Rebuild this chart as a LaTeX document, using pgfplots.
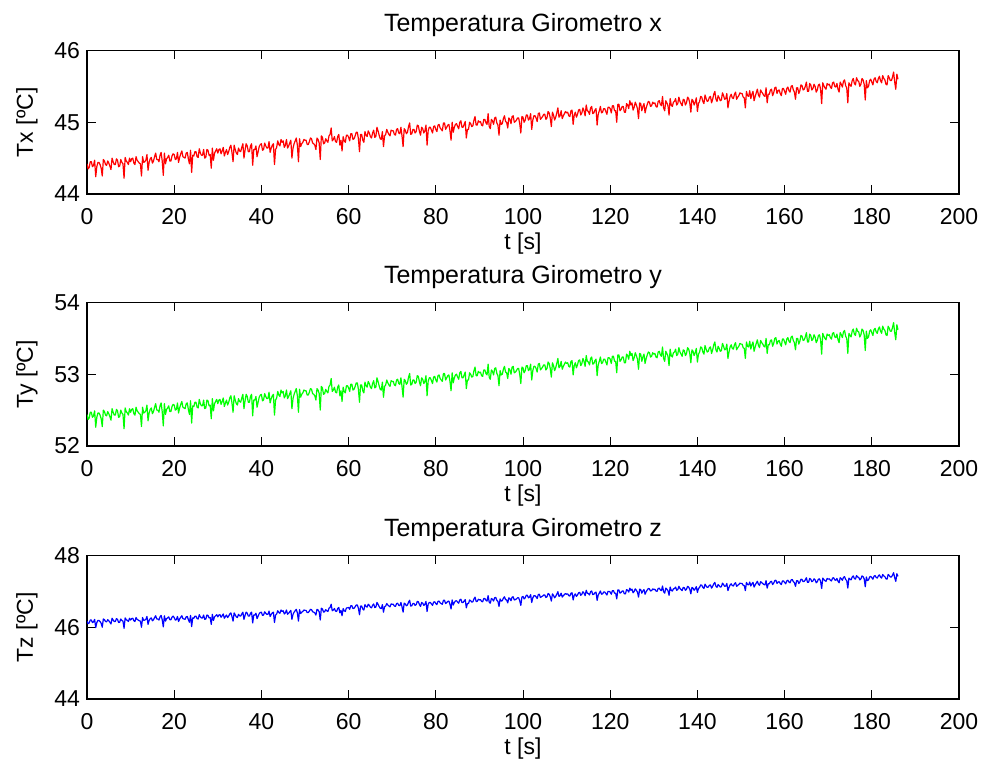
\documentclass[border=0pt]{standalone}
\usepackage{pgfplots}
\pgfplotsset{compat=1.18}
\usepackage{pgfplotstable}
\usepackage{fontspec}
\setmainfont{Liberation Sans}
\definecolor{mred}{rgb}{1,0,0}
\definecolor{mgreen}{rgb}{0,1,0}
\definecolor{mblue}{rgb}{0,0,1}
\pgfplotstableread{
t x y z
0 44.42 52.44 46.17
0.25 44.35 52.37 46.10
0.5 44.37 52.39 46.12
0.75 44.45 52.47 46.20
1 44.45 52.47 46.20
1.25 44.38 52.40 46.13
1.5 44.40 52.42 46.15
1.75 44.47 52.49 46.22
2 44.24 52.26 45.99
2.25 44.38 52.40 46.13
2.5 44.44 52.46 46.19
2.75 44.44 52.46 46.19
3 44.41 52.43 46.16
3.25 44.36 52.38 46.11
3.5 44.25 52.27 46.00
3.75 44.48 52.50 46.23
4 44.46 52.48 46.21
4.25 44.41 52.43 46.16
4.5 44.40 52.42 46.15
4.75 44.46 52.48 46.21
5 44.43 52.45 46.18
5.25 44.39 52.41 46.14
5.5 44.34 52.36 46.09
5.75 44.50 52.52 46.25
6 44.45 52.47 46.20
6.25 44.41 52.43 46.16
6.5 44.41 52.43 46.16
6.75 44.49 52.51 46.24
7 44.47 52.49 46.22
7.25 44.38 52.40 46.13
7.5 44.39 52.41 46.14
7.75 44.48 52.50 46.23
8 44.44 52.46 46.19
8.25 44.42 52.44 46.17
8.5 44.22 52.24 45.97
8.75 44.51 52.53 46.26
9 44.46 52.48 46.21
9.25 44.44 52.46 46.19
9.5 44.41 52.43 46.16
9.75 44.50 52.52 46.25
10 44.45 52.47 46.20
10.25 44.49 52.51 46.24
10.5 44.50 52.52 46.25
10.75 44.43 52.45 46.18
11 44.41 52.43 46.16
11.25 44.52 52.54 46.27
11.5 44.47 52.49 46.22
11.75 44.45 52.47 46.20
12 44.43 52.45 46.18
12.25 44.42 52.44 46.17
12.5 44.25 52.27 46.00
12.75 44.52 52.54 46.27
13 44.44 52.46 46.19
13.25 44.45 52.47 46.20
13.5 44.47 52.49 46.22
13.75 44.55 52.57 46.30
14 44.33 52.35 46.08
14.25 44.44 52.46 46.19
14.5 44.49 52.51 46.24
14.75 44.51 52.53 46.26
15 44.43 52.45 46.18
15.25 44.46 52.48 46.21
15.5 44.52 52.54 46.27
15.75 44.57 52.59 46.32
16 44.48 52.50 46.23
16.25 44.48 52.50 46.23
16.5 44.45 52.47 46.20
16.75 44.54 52.56 46.29
17 44.58 52.60 46.33
17.25 44.46 52.48 46.21
17.5 44.26 52.28 46.01
17.75 44.57 52.59 46.32
18 44.42 52.44 46.17
18.25 44.49 52.51 46.24
18.5 44.51 52.53 46.26
18.75 44.54 52.56 46.29
19 44.46 52.48 46.21
19.25 44.46 52.48 46.21
19.5 44.53 52.55 46.28
19.75 44.56 52.58 46.31
20 44.55 52.57 46.27
20.25 44.48 52.50 46.20
20.5 44.49 52.51 46.21
20.75 44.58 52.60 46.30
21 44.44 52.46 46.16
21.25 44.51 52.53 46.23
21.5 44.56 52.58 46.28
21.75 44.60 52.62 46.32
22 44.52 52.54 46.24
22.25 44.51 52.53 46.23
22.5 44.50 52.52 46.22
22.75 44.57 52.59 46.29
23 44.58 52.60 46.30
23.25 44.49 52.51 46.21
23.5 44.42 52.44 46.14
23.75 44.61 52.63 46.33
24 44.30 52.32 46.02
24.25 44.54 52.56 46.26
24.5 44.53 52.55 46.25
24.75 44.59 52.61 46.31
25 44.59 52.61 46.31
25.25 44.52 52.54 46.24
25.5 44.51 52.53 46.23
25.75 44.63 52.65 46.35
26 44.57 52.59 46.29
26.25 44.54 52.56 46.26
26.5 44.54 52.56 46.26
26.75 44.62 52.64 46.34
27 44.50 52.52 46.22
27.25 44.51 52.53 46.23
27.5 44.62 52.64 46.34
27.75 44.61 52.63 46.33
28 44.54 52.56 46.26
28.25 44.55 52.57 46.27
28.5 44.36 52.38 46.08
28.75 44.64 52.66 46.36
29 44.47 52.49 46.19
29.25 44.57 52.59 46.29
29.5 44.60 52.62 46.32
29.75 44.63 52.65 46.35
30 44.57 52.59 46.29
30.25 44.62 52.64 46.34
30.5 44.63 52.65 46.35
30.75 44.56 52.58 46.28
31 44.60 52.62 46.32
31.25 44.65 52.67 46.37
31.5 44.53 52.55 46.25
31.75 44.58 52.60 46.30
32 44.62 52.64 46.34
32.25 44.55 52.57 46.27
32.5 44.59 52.61 46.31
32.75 44.65 52.67 46.37
33 44.68 52.70 46.40
33.25 44.58 52.60 46.30
33.5 44.45 52.47 46.17
33.75 44.68 52.70 46.40
34 44.62 52.64 46.34
34.25 44.57 52.59 46.29
34.5 44.55 52.57 46.27
34.75 44.64 52.66 46.36
35 44.60 52.62 46.32
35.25 44.59 52.61 46.31
35.5 44.65 52.67 46.37
35.75 44.70 52.72 46.42
36 44.50 52.52 46.22
36.25 44.61 52.63 46.33
36.5 44.70 52.72 46.42
36.75 44.67 52.69 46.39
37 44.59 52.61 46.31
37.25 44.59 52.61 46.31
37.5 44.67 52.69 46.39
37.75 44.70 52.72 46.42
38 44.40 52.42 46.12
38.25 44.62 52.64 46.34
38.5 44.62 52.64 46.34
38.75 44.67 52.69 46.39
39 44.52 52.54 46.24
39.25 44.59 52.61 46.31
39.5 44.66 52.68 46.38
39.75 44.69 52.71 46.41
40 44.70 52.72 46.42
40.25 44.61 52.63 46.33
40.5 44.62 52.64 46.34
40.75 44.71 52.73 46.43
41 44.67 52.69 46.39
41.25 44.64 52.66 46.36
41.5 44.64 52.66 46.36
41.75 44.73 52.75 46.45
42 44.58 52.60 46.30
42.25 44.64 52.66 46.36
42.5 44.68 52.70 46.40
42.75 44.70 52.72 46.42
43 44.41 52.43 46.13
43.25 44.62 52.64 46.34
43.5 44.65 52.67 46.37
43.75 44.74 52.76 46.46
44 44.69 52.71 46.41
44.25 44.67 52.69 46.39
44.5 44.76 52.78 46.48
44.75 44.72 52.74 46.44
45 44.74 52.76 46.46
45.25 44.65 52.67 46.37
45.5 44.68 52.70 46.40
45.75 44.76 52.78 46.48
46 44.64 52.66 46.36
46.25 44.67 52.69 46.39
46.5 44.71 52.73 46.43
46.75 44.75 52.77 46.47
47 44.50 52.52 46.22
47.25 44.64 52.66 46.36
47.5 44.70 52.72 46.42
47.75 44.74 52.76 46.46
48 44.78 52.80 46.50
48.25 44.68 52.70 46.40
48.5 44.45 52.47 46.17
48.75 44.77 52.79 46.49
49 44.66 52.68 46.38
49.25 44.70 52.72 46.42
49.5 44.72 52.74 46.44
49.75 44.76 52.78 46.48
50 44.75 52.77 46.47
50.25 44.75 52.77 46.47
50.5 44.69 52.71 46.41
50.75 44.69 52.71 46.41
51 44.73 52.75 46.45
51.25 44.78 52.80 46.50
51.5 44.77 52.79 46.49
51.75 44.71 52.73 46.43
52 44.70 52.72 46.42
52.25 44.68 52.70 46.40
52.5 44.62 52.64 46.34
52.75 44.78 52.80 46.50
53 44.76 52.78 46.48
53.25 44.71 52.73 46.43
53.5 44.48 52.50 46.20
53.75 44.81 52.83 46.53
54 44.79 52.81 46.51
54.25 44.70 52.72 46.42
54.5 44.71 52.73 46.43
54.75 44.77 52.79 46.49
55 44.74 52.76 46.46
55.25 44.72 52.74 46.44
55.5 44.81 52.83 46.53
55.75 44.83 52.85 46.55
56 44.92 52.94 46.64
56.25 44.74 52.76 46.46
56.5 44.76 52.78 46.48
56.75 44.80 52.82 46.52
57 44.73 52.75 46.45
57.25 44.72 52.74 46.44
57.5 44.80 52.82 46.52
57.75 44.83 52.85 46.55
58 44.68 52.70 46.40
58.25 44.75 52.77 46.47
58.5 44.60 52.62 46.32
58.75 44.80 52.82 46.52
59 44.74 52.76 46.46
59.25 44.72 52.74 46.44
59.5 44.82 52.84 46.54
59.75 44.82 52.84 46.54
60 44.79 52.81 46.55
60.25 44.74 52.76 46.50
60.5 44.84 52.86 46.60
60.75 44.84 52.86 46.60
61 44.76 52.78 46.52
61.25 44.77 52.79 46.53
61.5 44.81 52.83 46.57
61.75 44.86 52.88 46.62
62 44.86 52.88 46.62
62.25 44.77 52.79 46.53
62.5 44.59 52.61 46.35
62.75 44.83 52.85 46.59
63 44.83 52.85 46.59
63.25 44.75 52.77 46.51
63.5 44.72 52.74 46.48
63.75 44.87 52.89 46.63
64 44.82 52.84 46.58
64.25 44.80 52.82 46.56
64.5 44.88 52.90 46.64
64.75 44.85 52.87 46.61
65 44.80 52.82 46.56
65.25 44.78 52.80 46.54
65.5 44.85 52.87 46.61
65.75 44.89 52.91 46.65
66 44.79 52.81 46.55
66.25 44.80 52.82 46.56
66.5 44.93 52.95 46.69
66.75 44.88 52.90 46.64
67 44.82 52.84 46.58
67.25 44.77 52.79 46.53
67.5 44.76 52.78 46.52
67.75 44.87 52.89 46.63
68 44.66 52.68 46.42
68.25 44.81 52.83 46.57
68.5 44.83 52.85 46.59
68.75 44.90 52.92 46.66
69 44.86 52.88 46.62
69.25 44.83 52.85 46.59
69.5 44.81 52.83 46.57
69.75 44.89 52.91 46.65
70 44.88 52.90 46.64
70.25 44.88 52.90 46.64
70.5 44.83 52.85 46.59
70.75 44.82 52.84 46.58
71 44.90 52.92 46.66
71.25 44.91 52.93 46.67
71.5 44.85 52.87 46.61
71.75 44.84 52.86 46.60
72 44.93 52.95 46.69
72.25 44.81 52.83 46.57
72.5 44.66 52.68 46.42
72.75 44.91 52.93 46.67
73 44.89 52.91 46.65
73.25 44.84 52.86 46.60
73.5 44.86 52.88 46.62
73.75 44.94 52.96 46.70
74 44.99 53.01 46.75
74.25 44.83 52.85 46.59
74.5 44.84 52.86 46.60
74.75 44.90 52.92 46.66
75 44.90 52.92 46.66
75.25 44.85 52.87 46.61
75.5 44.87 52.89 46.63
75.75 44.96 52.98 46.72
76 44.95 52.97 46.71
76.25 44.87 52.89 46.63
76.5 44.82 52.84 46.58
76.75 44.93 52.95 46.69
77 44.91 52.93 46.67
77.25 44.85 52.87 46.61
77.5 44.88 52.90 46.64
77.75 44.96 52.98 46.72
78 44.68 52.70 46.44
78.25 44.88 52.90 46.64
78.5 44.93 52.95 46.69
78.75 44.93 52.95 46.69
79 44.89 52.91 46.65
79.25 44.85 52.87 46.61
79.5 44.94 52.96 46.70
79.75 44.95 52.97 46.71
80 44.90 52.92 46.66
80.25 44.87 52.89 46.63
80.5 44.96 52.98 46.72
80.75 44.97 52.99 46.73
81 44.92 52.94 46.68
81.25 44.90 52.92 46.66
81.5 44.88 52.90 46.64
81.75 44.99 53.01 46.75
82 44.99 53.01 46.75
82.25 44.90 52.92 46.66
82.5 44.93 52.95 46.69
82.75 44.96 52.98 46.72
83 44.97 52.99 46.73
83.25 44.88 52.90 46.64
83.5 44.75 52.77 46.51
83.75 45.00 53.02 46.76
84 44.86 52.88 46.62
84.25 44.93 52.95 46.69
84.5 44.97 52.99 46.73
84.75 44.98 53.00 46.74
85 44.94 52.96 46.70
85.25 44.91 52.93 46.67
85.5 45.00 53.02 46.76
85.75 45.02 53.04 46.78
86 44.93 52.95 46.69
86.25 44.93 52.95 46.69
86.5 44.97 52.99 46.73
86.75 45.01 53.03 46.77
87 44.78 52.80 46.54
87.25 44.90 52.92 46.66
87.5 44.90 52.92 46.66
87.75 45.00 53.02 46.76
88 44.98 53.00 46.74
88.25 44.94 52.96 46.70
88.5 44.95 52.97 46.71
88.75 45.03 53.05 46.79
89 45.08 53.10 46.84
89.25 44.96 52.98 46.72
89.5 44.96 52.98 46.72
89.75 45.02 53.04 46.78
90 45.00 53.02 46.76
90.25 45.01 53.03 46.77
90.5 44.96 52.98 46.72
90.75 44.95 52.97 46.71
91 45.04 53.06 46.80
91.25 45.04 53.06 46.80
91.5 44.99 53.01 46.75
91.75 44.97 52.99 46.73
92 45.12 53.14 46.88
92.25 44.94 52.96 46.70
92.5 44.91 52.93 46.67
92.75 45.04 53.06 46.80
93 45.02 53.04 46.78
93.25 44.97 52.99 46.73
93.5 45.06 53.08 46.82
93.75 45.07 53.09 46.83
94 44.99 53.01 46.75
94.25 44.96 52.98 46.72
94.5 44.82 52.84 46.58
94.75 45.03 53.05 46.79
95 44.97 52.99 46.73
95.25 44.98 53.00 46.74
95.5 45.05 53.07 46.81
95.75 45.09 53.11 46.85
96 45.01 53.03 46.77
96.25 45.00 53.02 46.76
96.5 44.92 52.94 46.68
96.75 45.06 53.08 46.82
97 45.04 53.06 46.80
97.25 44.98 53.00 46.74
97.5 45.08 53.10 46.84
97.75 45.09 53.11 46.85
98 45.00 53.02 46.76
98.25 45.01 53.03 46.77
98.5 45.03 53.05 46.79
98.75 45.06 53.08 46.82
99 45.06 53.08 46.82
99.25 44.98 53.00 46.74
99.5 44.85 52.87 46.61
99.75 45.08 53.10 46.84
100 45.07 53.09 46.86
100.25 45.00 53.02 46.79
100.5 45.03 53.05 46.82
100.75 45.10 53.12 46.89
101 45.10 53.12 46.89
101.25 45.03 53.05 46.82
101.5 45.05 53.07 46.84
101.75 45.12 53.14 46.91
102 44.90 52.92 46.69
102.25 45.03 53.05 46.82
102.5 45.09 53.11 46.88
102.75 45.09 53.11 46.88
103 45.06 53.08 46.85
103.25 45.01 53.03 46.80
103.5 45.12 53.14 46.91
103.75 45.13 53.15 46.92
104 45.04 53.06 46.83
104.25 45.06 53.08 46.85
104.5 45.08 53.10 46.87
104.75 45.11 53.13 46.90
105 45.11 53.13 46.90
105.25 45.04 53.06 46.83
105.5 45.06 53.08 46.85
105.75 45.15 53.17 46.94
106 45.13 53.15 46.92
106.25 45.06 53.08 46.85
106.5 44.94 52.96 46.73
106.75 45.14 53.16 46.93
107 45.10 53.12 46.89
107.25 45.03 53.05 46.82
107.5 45.07 53.09 46.86
107.75 45.13 53.15 46.92
108 45.20 53.22 46.99
108.25 45.07 53.09 46.86
108.5 45.09 53.11 46.88
108.75 45.16 53.18 46.95
109 45.05 53.07 46.84
109.25 45.09 53.11 46.88
109.5 45.12 53.14 46.91
109.75 45.15 53.17 46.94
110 45.13 53.15 46.92
110.25 45.14 53.16 46.93
110.5 45.09 53.11 46.88
110.75 45.08 53.10 46.87
111 45.16 53.18 46.95
111.25 45.17 53.19 46.96
111.5 44.97 52.99 46.76
111.75 45.10 53.12 46.89
112 45.14 53.16 46.93
112.25 45.07 53.09 46.86
112.5 45.11 53.13 46.90
112.75 45.17 53.19 46.96
113 45.18 53.20 46.97
113.25 45.10 53.12 46.89
113.5 45.13 53.15 46.92
113.75 45.20 53.22 46.99
114 45.16 53.18 46.95
114.25 45.09 53.11 46.88
114.5 45.24 53.26 47.03
114.75 45.16 53.18 46.95
115 45.15 53.17 46.94
115.25 45.11 53.13 46.90
115.5 45.20 53.22 46.99
115.75 45.22 53.24 47.01
116 45.12 53.14 46.91
116.25 45.13 53.15 46.92
116.5 45.17 53.19 46.96
116.75 45.19 53.21 46.98
117 44.96 52.98 46.75
117.25 45.11 53.13 46.90
117.5 45.16 53.18 46.95
117.75 45.22 53.24 47.01
118 45.13 53.15 46.92
118.25 45.14 53.16 46.93
118.5 45.19 53.21 46.98
118.75 45.19 53.21 46.98
119 45.15 53.17 46.94
119.25 45.11 53.13 46.90
119.5 45.21 53.23 47.00
119.75 45.21 53.23 47.00
120 45.19 53.21 46.98
120.25 45.13 53.15 46.92
120.5 45.23 53.25 47.02
120.75 45.23 53.25 47.02
121 45.16 53.18 46.95
121.25 45.16 53.18 46.95
121.5 45.00 53.02 46.79
121.75 45.25 53.27 47.04
122 45.25 53.27 47.04
122.25 45.16 53.18 46.95
122.5 45.18 53.20 46.97
122.75 45.22 53.24 47.01
123 45.22 53.24 47.01
123.25 45.14 53.16 46.93
123.5 45.14 53.16 46.93
123.75 45.26 53.28 47.05
124 45.24 53.26 47.03
124.25 45.19 53.21 46.98
124.5 45.30 53.32 47.09
124.75 45.24 53.26 47.03
125 45.27 53.29 47.06
125.25 45.17 53.19 46.96
125.5 45.21 53.23 47.00
125.75 45.28 53.30 47.07
126 45.24 53.26 47.03
126.25 45.19 53.21 46.98
126.5 45.05 53.07 46.84
126.75 45.27 53.29 47.06
127 45.26 53.28 47.05
127.25 45.16 53.18 46.95
127.5 45.22 53.24 47.01
127.75 45.26 53.28 47.05
128 45.13 53.15 46.92
128.25 45.20 53.22 46.99
128.5 45.25 53.27 47.04
128.75 45.29 53.31 47.08
129 45.28 53.30 47.07
129.25 45.22 53.24 47.01
129.5 45.23 53.25 47.02
129.75 45.28 53.30 47.07
130 45.26 53.28 47.05
130.25 45.27 53.29 47.06
130.5 45.22 53.24 47.01
130.75 45.21 53.23 47.00
131 45.29 53.31 47.08
131.25 45.30 53.32 47.09
131.5 45.25 53.27 47.04
131.75 45.23 53.25 47.02
132 45.36 53.38 47.15
132.25 45.20 53.22 46.99
132.5 45.16 53.18 46.95
132.75 45.30 53.32 47.09
133 45.27 53.29 47.06
133.25 45.23 53.25 47.02
133.5 45.10 53.12 46.89
133.75 45.33 53.35 47.12
134 45.24 53.26 47.03
134.25 45.22 53.24 47.01
134.5 45.28 53.30 47.07
134.75 45.29 53.31 47.08
135 45.33 53.35 47.12
135.25 45.24 53.26 47.03
135.5 45.26 53.28 47.05
135.75 45.35 53.37 47.14
136 45.29 53.31 47.08
136.25 45.26 53.28 47.05
136.5 45.23 53.25 47.02
136.75 45.32 53.34 47.11
137 45.31 53.33 47.10
137.25 45.24 53.26 47.03
137.5 45.27 53.29 47.06
137.75 45.35 53.37 47.14
138 45.33 53.35 47.12
138.25 45.27 53.29 47.06
138.5 45.14 53.16 46.93
138.75 45.32 53.34 47.11
139 45.30 53.32 47.09
139.25 45.24 53.26 47.03
139.5 45.28 53.30 47.07
139.75 45.34 53.36 47.13
140 45.15 53.17 46.97
140.25 45.26 53.28 47.08
140.5 45.29 53.31 47.11
140.75 45.36 53.38 47.18
141 45.35 53.37 47.17
141.25 45.29 53.31 47.11
141.5 45.26 53.28 47.08
141.75 45.38 53.40 47.20
142 45.33 53.35 47.15
142.25 45.29 53.31 47.11
142.5 45.30 53.32 47.12
142.75 45.35 53.37 47.17
143 45.36 53.38 47.18
143.25 45.27 53.29 47.09
143.5 45.32 53.34 47.14
143.75 45.39 53.41 47.21
144 45.43 53.45 47.25
144.25 45.32 53.34 47.14
144.5 45.29 53.31 47.11
144.75 45.37 53.39 47.19
145 45.34 53.36 47.16
145.25 45.30 53.32 47.12
145.5 45.31 53.33 47.13
145.75 45.41 53.43 47.23
146 45.37 53.39 47.19
146.25 45.32 53.34 47.14
146.5 45.33 53.35 47.15
146.75 45.40 53.42 47.22
147 45.20 53.22 47.02
147.25 45.29 53.31 47.11
147.5 45.36 53.38 47.18
147.75 45.39 53.41 47.21
148 45.34 53.36 47.16
148.25 45.33 53.35 47.15
148.5 45.39 53.41 47.21
148.75 45.42 53.44 47.24
149 45.32 53.34 47.14
149.25 45.35 53.37 47.17
149.5 45.37 53.39 47.19
149.75 45.41 53.43 47.23
150 45.40 53.42 47.22
150.25 45.40 53.42 47.22
150.5 45.35 53.37 47.17
150.75 45.34 53.36 47.16
151 45.20 53.22 47.02
151.25 45.43 53.45 47.25
151.5 45.37 53.39 47.19
151.75 45.36 53.38 47.18
152 45.44 53.46 47.26
152.25 45.33 53.35 47.15
152.5 45.39 53.41 47.21
152.75 45.43 53.45 47.25
153 45.30 53.32 47.12
153.25 45.36 53.38 47.18
153.5 45.41 53.43 47.23
153.75 45.46 53.48 47.28
154 45.38 53.40 47.20
154.25 45.35 53.37 47.17
154.5 45.45 53.47 47.27
154.75 45.42 53.44 47.24
155 45.40 53.42 47.22
155.25 45.37 53.39 47.19
155.5 45.36 53.38 47.18
155.75 45.48 53.50 47.30
156 45.27 53.29 47.09
156.25 45.39 53.41 47.21
156.5 45.39 53.41 47.21
156.75 45.45 53.47 47.27
157 45.46 53.48 47.28
157.25 45.37 53.39 47.19
157.5 45.41 53.43 47.23
157.75 45.48 53.50 47.30
158 45.49 53.51 47.31
158.25 45.40 53.42 47.22
158.5 45.44 53.46 47.26
158.75 45.45 53.47 47.27
159 45.40 53.42 47.22
159.25 45.37 53.39 47.19
159.5 45.47 53.49 47.29
159.75 45.47 53.49 47.29
160 45.43 53.45 47.25
160.25 45.39 53.41 47.21
160.5 45.47 53.49 47.29
160.75 45.49 53.51 47.31
161 45.44 53.46 47.26
161.25 45.42 53.44 47.24
161.5 45.50 53.52 47.32
161.75 45.51 53.53 47.33
162 45.45 53.47 47.27
162.25 45.42 53.44 47.24
162.5 45.32 53.34 47.14
162.75 45.48 53.50 47.30
163 45.48 53.50 47.30
163.25 45.40 53.42 47.22
163.5 45.44 53.46 47.26
163.75 45.52 53.54 47.34
164 45.51 53.53 47.33
164.25 45.45 53.47 47.27
164.5 45.46 53.48 47.28
164.75 45.50 53.52 47.32
165 45.56 53.58 47.38
165.25 45.43 53.45 47.25
165.5 45.43 53.45 47.25
165.75 45.54 53.56 47.36
166 45.52 53.54 47.34
166.25 45.45 53.47 47.27
166.5 45.47 53.49 47.29
166.75 45.53 53.55 47.35
167 45.50 53.52 47.32
167.25 45.42 53.44 47.24
167.5 45.45 53.47 47.27
167.75 45.52 53.54 47.34
168 45.53 53.55 47.35
168.25 45.46 53.48 47.28
168.5 45.26 53.28 47.08
168.75 45.55 53.57 47.37
169 45.51 53.53 47.33
169.25 45.48 53.50 47.30
169.5 45.46 53.48 47.28
169.75 45.54 53.56 47.36
170 45.52 53.54 47.34
170.25 45.53 53.55 47.35
170.5 45.49 53.51 47.31
170.75 45.47 53.49 47.29
171 45.55 53.57 47.37
171.25 45.56 53.58 47.38
171.5 45.50 53.52 47.32
171.75 45.49 53.51 47.31
172 45.54 53.56 47.36
172.25 45.46 53.48 47.28
172.5 45.42 53.44 47.24
172.75 45.56 53.58 47.38
173 45.53 53.55 47.35
173.25 45.49 53.51 47.31
173.5 45.57 53.59 47.39
173.75 45.59 53.61 47.41
174 45.51 53.53 47.33
174.25 45.48 53.50 47.30
174.5 45.27 53.29 47.09
174.75 45.55 53.57 47.37
175 45.52 53.54 47.34
175.25 45.50 53.52 47.32
175.5 45.58 53.60 47.40
175.75 45.61 53.63 47.43
176 45.54 53.56 47.36
176.25 45.52 53.54 47.34
176.5 45.62 53.64 47.44
176.75 45.58 53.60 47.40
177 45.57 53.59 47.39
177.25 45.50 53.52 47.32
177.5 45.53 53.55 47.35
177.75 45.61 53.63 47.43
178 45.59 53.61 47.41
178.25 45.53 53.55 47.35
178.5 45.31 53.33 47.13
178.75 45.58 53.60 47.40
179 45.48 53.50 47.30
179.25 45.50 53.52 47.32
179.5 45.58 53.60 47.40
179.75 45.60 53.62 47.42
180 45.56 53.58 47.38
180.25 45.52 53.54 47.34
180.5 45.60 53.62 47.42
180.75 45.62 53.64 47.44
181 45.57 53.59 47.39
181.25 45.55 53.57 47.37
181.5 45.61 53.63 47.43
181.75 45.64 53.66 47.46
182 45.58 53.60 47.40
182.25 45.55 53.57 47.37
182.5 45.65 53.67 47.47
182.75 45.61 53.63 47.43
183 45.59 53.61 47.41
183.25 45.53 53.55 47.35
183.5 45.52 53.54 47.34
183.75 45.65 53.67 47.47
184 45.62 53.64 47.44
184.25 45.58 53.60 47.40
184.5 45.58 53.60 47.40
184.75 45.63 53.65 47.45
185 45.70 53.72 47.52
185.25 45.56 53.58 47.38
185.5 45.46 53.48 47.28
185.75 45.67 53.69 47.49
186 45.60 53.62 47.42
}\datatable

\pgfplotsset{
  gyro/.style={
    anchor=south west,
    scale only axis, width=436pt, height=71.75pt,
    xmin=0, xmax=200, xtick={0,20,...,200},
    tick align=inside,
    major tick length=4.5pt,
    axis line style={line width=0.6pt, black},
    every tick/.style={black, line width=0.5pt},
    /pgf/number format/assume math mode=true,
    font=\fontsize{11.5}{14}\selectfont,
    tick label style={font=\fontsize{11.5}{14}\selectfont},
    xticklabel style={anchor=base, yshift=-15.5pt},
    xlabel={t [s]},
    xlabel style={at={(axis description cs:0.5,-0.39)}, anchor=base},
    title style={at={(axis description cs:0.5,1.052)}, anchor=base,
      font=\fontsize{12.5}{15}\selectfont},
    ylabel style={at={(axis description cs:-0.0688,0.5)}, anchor=center},
  }
}

\begin{document}
\begin{tikzpicture}
\useasboundingbox (0,0) rectangle (493pt,385pt);
\begin{axis}[gyro, at={(43.5pt,288pt)},
  ymin=44, ymax=46, ytick={44,45,46},
  title={Temperatura Girometro x}, ylabel={Tx [ºC]}]
\addplot[mred, line width=0.6pt, line join=round] table[x=t, y=x] {\datatable};
\end{axis}
\begin{axis}[gyro, at={(43.5pt,162pt)},
  ymin=52, ymax=54, ytick={52,53,54},
  title={Temperatura Girometro y}, ylabel={Ty [ºC]}]
\addplot[mgreen, line width=0.6pt, line join=round] table[x=t, y=y] {\datatable};
\end{axis}
\begin{axis}[gyro, at={(43.5pt,35.5pt)},
  ymin=44, ymax=48, ytick={44,46,48},
  title={Temperatura Girometro z}, ylabel={Tz [ºC]}]
\addplot[mblue, line width=0.6pt, line join=round] table[x=t, y=z] {\datatable};
\end{axis}
\end{tikzpicture}
\end{document}
